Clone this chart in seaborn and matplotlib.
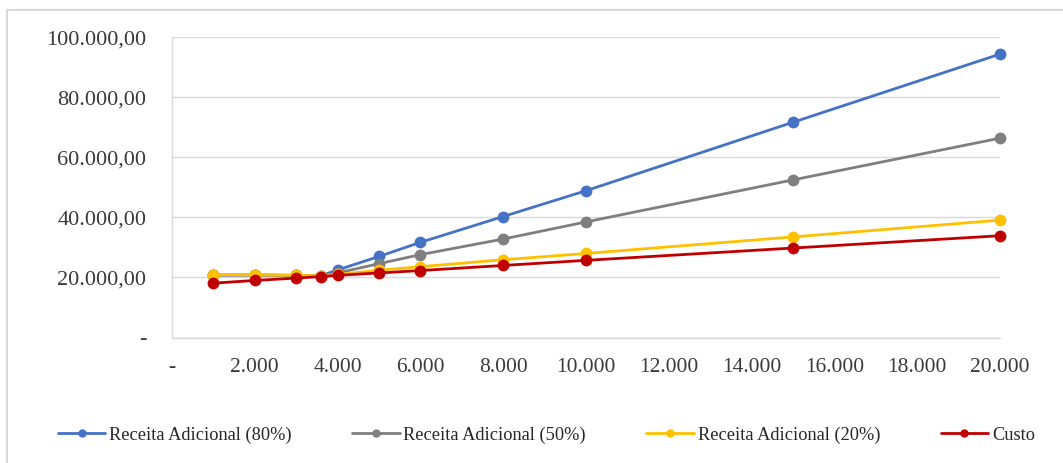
import matplotlib
matplotlib.use("Agg")
import matplotlib.pyplot as plt
from matplotlib.lines import Line2D
from matplotlib.ticker import FixedLocator, FuncFormatter
import seaborn as sns
import pandas as pd

quantidade = [1000, 2000, 3000, 3600, 4000, 5000, 6000, 8000, 10000, 15000, 20000]
receita_80 = [20800, 20800, 20700, 20600, 22500, 27000, 31700, 40300, 48900, 71700, 94400]
receita_50 = [20800, 20800, 20700, 20600, 21500, 24600, 27600, 32800, 38500, 52500, 66400]
receita_20 = [20900, 20900, 20700, 20600, 21000, 22400, 23600, 25900, 28000, 33500, 39100]
custo = [18100, 19000, 19800, 20300, 20700, 21500, 22300, 24000, 25700, 29800, 33900]

series_names = ["Receita Adicional (80%)", "Receita Adicional (50%)",
                "Receita Adicional (20%)", "Custo"]
series_values = [receita_80, receita_50, receita_20, custo]
colors = ["#4472C4", "#7F7F7F", "#FFC000", "#C00000"]

x_ticks = list(range(0, 20001, 2000))
y_ticks = list(range(0, 100001, 20000))

sns.set_style("white")
plt.rcParams["font.family"] = ["Liberation Serif", "DejaVu Serif"]

fig = plt.figure(figsize=(10.63, 4.63), dpi=100)
ax = fig.add_axes([172 / 1063, 1 - 337.5 / 463, (1000 - 172) / 1063, (337.5 - 37.3) / 463])

for name, vals, col in zip(series_names, series_values, colors):
    df = pd.DataFrame({"x": quantidade, "y": vals})
    sns.lineplot(data=df, x="x", y="y", ax=ax, color=col, linewidth=2.0,
                 marker="o", markersize=8.5, markeredgewidth=0, label=name,
                 clip_on=False)

ax.set_xlim(0, 20000)
ax.set_ylim(0, 100000)
ax.xaxis.set_major_locator(FixedLocator(x_ticks))
ax.yaxis.set_major_locator(FixedLocator(y_ticks))


def fmt_x(v, pos):
    if v == 0:
        return "-"
    return f"{int(v):,}".replace(",", ".")


def fmt_y(v, pos):
    if v == 0:
        return "-"
    return f"{int(v):,}".replace(",", ".") + ",00"


ax.xaxis.set_major_formatter(FuncFormatter(fmt_x))
ax.yaxis.set_major_formatter(FuncFormatter(fmt_y))
ax.tick_params(axis="x", length=0, pad=14.5, labelsize=15.5, labelcolor="#3a3a3a")
ax.tick_params(axis="y", length=0, pad=18.5, labelsize=16, labelcolor="#3a3a3a")
ax.set_xlabel("")
ax.set_ylabel("")

ax.grid(axis="y", color="#d9d9d9", linewidth=1)
ax.grid(axis="x", visible=False)
for side in ["top", "right"]:
    ax.spines[side].set_visible(False)
for side in ["left", "bottom"]:
    ax.spines[side].set_color("#d9d9d9")
    ax.spines[side].set_linewidth(1)

handles, labels = ax.get_legend_handles_labels()
ax.get_legend().remove()
leg_handles = [Line2D([0], [0], color=c, linewidth=2.0, marker="o", markersize=6,
                      markeredgewidth=0) for c in colors]
fig.legend(leg_handles, labels, loc="center", bbox_to_anchor=(0.514, 1 - 435 / 463),
           ncol=4, frameon=False, fontsize=13.2, handlelength=2.6,
           columnspacing=3.3, handletextpad=0.2)

# outer chart frame
fig.add_artist(Line2D([7 / 1063, 1], [1 - 10 / 463, 1 - 10 / 463],
                      transform=fig.transFigure, color="#d9d9d9", linewidth=1.5))
fig.add_artist(Line2D([7 / 1063, 7 / 1063], [0, 1 - 10 / 463],
                      transform=fig.transFigure, color="#d9d9d9", linewidth=1.5))

fig.savefig("out.png", dpi=100, facecolor="white")
